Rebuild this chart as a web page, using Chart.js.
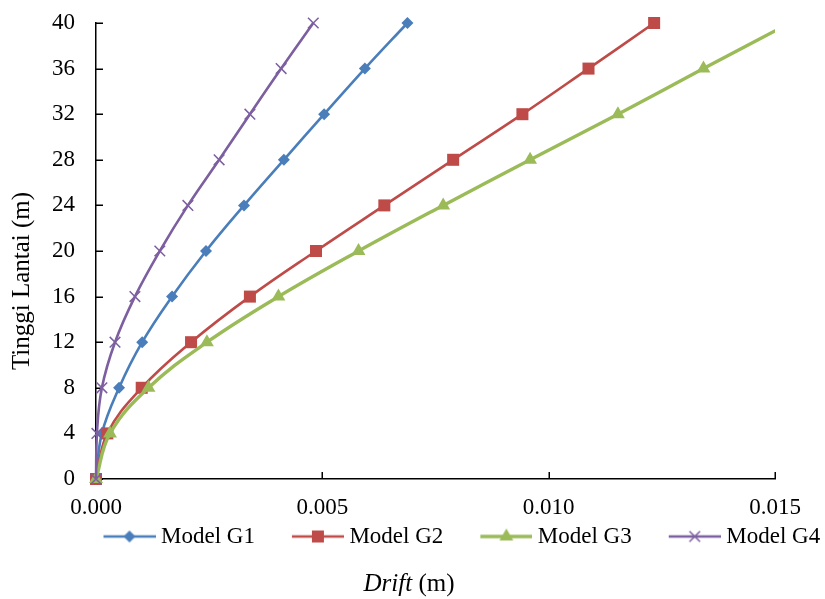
<!DOCTYPE html>
<html>
<head>
<meta charset="utf-8">
<script src="https://cdn.jsdelivr.net/npm/chart.js@4.4.1/dist/chart.umd.min.js"></script>
<style>
html,body{margin:0;padding:0;background:#fff;}
#wrap{width:825px;height:599px;position:relative;}
</style>
</head>
<body>
<div id="wrap"><canvas id="c" width="825" height="599"></canvas></div>
<script>
// ---- data ----
const heights = [0, 4, 8, 12, 16, 20, 24, 28, 32, 36, 40];
const driftG1 = [0, 0.00013, 0.00051, 0.00102, 0.00168, 0.00243, 0.00327, 0.00415, 0.00504, 0.00594, 0.00688];
const driftG2 = [0, 0.00025, 0.00101, 0.00210, 0.00340, 0.00486, 0.00637, 0.00789, 0.00942, 0.01088, 0.01233];
const driftG3 = [0, 0.00031, 0.00116, 0.00245, 0.00403, 0.00580, 0.00767, 0.00959, 0.01153, 0.01342, 0.01533];
const driftG4 = [0, 0.00002, 0.00013, 0.00042, 0.00086, 0.00141, 0.00203, 0.00272, 0.00340, 0.00409, 0.00480];
const seriesNames = ['Model G1', 'Model G2', 'Model G3', 'Model G4'];
const xTickValues = [0, 0.005, 0.010, 0.015];
const yTickValues = [0, 4, 8, 12, 16, 20, 24, 28, 32, 36, 40];
const yTitleText = 'Tinggi Lantai (m)';
const xTitleItalic = 'Drift';
const xTitleRest = ' (m)';

// ---- styles ----
const FONT = "'Liberation Serif', 'Times New Roman', serif";
const colors = ['#4A7EBB', '#BE4B48', '#9BBB59', '#7D5FA0'];
const lineWidths = [2.6, 2.6, 3.4, 2.6];
const shapes = ['rectRot', 'rect', 'triangle', 'crossRot'];
const radii = [6, 8.5, 8, 7.5];

function drawShape(g, shape, x, y, r, color) {
  g.save();
  g.fillStyle = color; g.strokeStyle = color; g.lineWidth = 1.5;
  g.beginPath();
  if (shape === 'rectRot') {
    g.moveTo(x, y - r); g.lineTo(x + r, y); g.lineTo(x, y + r); g.lineTo(x - r, y); g.closePath(); g.fill();
  } else if (shape === 'rect') {
    const s = r * Math.SQRT1_2; g.rect(x - s, y - s, 2 * s, 2 * s); g.fill();
  } else if (shape === 'triangle') {
    let a = 0;
    g.moveTo(x + Math.sin(a) * r, y - Math.cos(a) * r);
    a += 2 * Math.PI / 3; g.lineTo(x + Math.sin(a) * r, y - Math.cos(a) * r);
    a += 2 * Math.PI / 3; g.lineTo(x + Math.sin(a) * r, y - Math.cos(a) * r);
    g.closePath(); g.fill();
  } else if (shape === 'crossRot') {
    const s = r * Math.SQRT1_2;
    g.moveTo(x - s, y - s); g.lineTo(x + s, y + s);
    g.moveTo(x + s, y - s); g.lineTo(x - s, y + s); g.stroke();
  }
  g.restore();
}

function legendSymbol(i) {
  const c = document.createElement('canvas');
  c.width = 91; c.height = 22;
  const g = c.getContext('2d');
  g.strokeStyle = colors[i]; g.lineWidth = lineWidths[i];
  g.beginPath(); g.moveTo(39, 11); g.lineTo(91, 11); g.stroke();
  drawShape(g, shapes[i], 65, 11, radii[i], colors[i]);
  return c;
}
const legendSymbols = [0, 1, 2, 3].map(legendSymbol);

const seriesData = [driftG1, driftG2, driftG3, driftG4];
const datasets = seriesData.map((arr, i) => ({
  label: seriesNames[i],
  data: arr.map((v, k) => ({ x: v, y: heights[k] })),
  borderColor: colors[i],
  backgroundColor: colors[i],
  borderWidth: lineWidths[i],
  pointStyle: shapes[i],
  pointRadius: radii[i],
  pointBackgroundColor: colors[i],
  pointBorderColor: colors[i],
  pointBorderWidth: shapes[i] === 'crossRot' ? 1.5 : 0,
  tension: 0.4,
  fill: false,
  order: 4 - i,
  clip: { left: 20, top: 20, right: 0, bottom: 20 }
}));

const tickFont = { family: FONT, size: 23 };

const extras = {
  id: 'extras',
  afterLayout(chart) {
    const lg = chart.legend;
    if (!lg) return;
    const h = lg.height;
    lg.left = 66.5; lg.right = 66.5 + 825;
    lg.top = 521; lg.bottom = lg.top + h;
  },
  beforeDatasetsDraw(chart) {
    const { ctx, chartArea, scales } = chart;
    ctx.save();
    ctx.strokeStyle = '#000'; ctx.lineWidth = 1.5;
    ctx.beginPath();
    yTickValues.forEach(v => {
      const y = Math.round(scales.y.getPixelForValue(v)) + 0.25;
      ctx.moveTo(chartArea.left, y); ctx.lineTo(chartArea.left + 7, y);
    });
    xTickValues.forEach(v => {
      const x = Math.round(scales.x.getPixelForValue(v)) + 0.25;
      ctx.moveTo(x, chartArea.bottom); ctx.lineTo(x, chartArea.bottom - 7);
    });
    ctx.stroke();
    ctx.restore();
  },
  afterDraw(chart) {
    const ctx = chart.ctx;
    ctx.save();
    ctx.fillStyle = '#000';
    ctx.font = '25px ' + FONT;
    ctx.textAlign = 'center'; ctx.textBaseline = 'alphabetic';
    ctx.translate(29, 281);
    ctx.rotate(-Math.PI / 2);
    ctx.fillText(yTitleText, 0, 0);
    ctx.restore();
    ctx.save();
    ctx.fillStyle = '#000';
    ctx.textBaseline = 'alphabetic'; ctx.textAlign = 'left';
    ctx.font = 'italic 25px ' + FONT;
    const w1 = ctx.measureText(xTitleItalic).width;
    ctx.font = '25px ' + FONT;
    const w2 = ctx.measureText(xTitleRest).width;
    const x0 = 409 - (w1 + w2) / 2;
    ctx.font = 'italic 25px ' + FONT;
    ctx.fillText(xTitleItalic, x0, 591);
    ctx.font = '25px ' + FONT;
    ctx.fillText(xTitleRest, x0 + w1, 591);
    ctx.restore();
  }
};

new Chart(document.getElementById('c'), {
  type: 'line',
  data: { datasets },
  options: {
    responsive: false,
    animation: false,
    events: [],
    layout: { padding: { top: 23, right: 50, bottom: 41, left: 0 } },
    scales: {
      x: {
        type: 'linear', min: 0, max: 0.015,
        afterBuildTicks: s => { s.ticks = xTickValues.map(v => ({ value: v })); },
        ticks: { callback: v => Number(v).toFixed(3), padding: 15, font: tickFont, color: '#000', maxRotation: 0, autoSkip: false },
        grid: { display: true, drawOnChartArea: false, drawTicks: false },
        border: { display: true, color: '#000', width: 1.5 },
        afterFit: s => { s.height = 42; s.paddingLeft = 0; s.paddingRight = 0; }
      },
      y: {
        type: 'linear', min: 0, max: 40,
        afterBuildTicks: s => { s.ticks = yTickValues.map(v => ({ value: v })); },
        ticks: { callback: v => String(v), padding: 21, font: tickFont, color: '#000', autoSkip: false },
        grid: { display: true, drawOnChartArea: false, drawTicks: false },
        border: { display: true, color: '#000', width: 1.5 },
        afterFit: s => { s.width = 96; s.paddingTop = 0; s.paddingBottom = 0; }
      }
    },
    plugins: {
      legend: {
        position: 'bottom', align: 'start',
        labels: {
          usePointStyle: true, pointStyleWidth: 79, padding: 4,
          font: { family: FONT, size: 23 }, color: '#000',
          generateLabels: () => seriesNames.map((n, i) => ({
            text: n, pointStyle: legendSymbols[i], fillStyle: colors[i], strokeStyle: colors[i],
            lineWidth: 0, hidden: false, datasetIndex: i, fontColor: '#000'
          }))
        }
      },
      tooltip: { enabled: false },
      title: { display: false }
    }
  },
  plugins: [extras]
});
</script>
</body>
</html>
